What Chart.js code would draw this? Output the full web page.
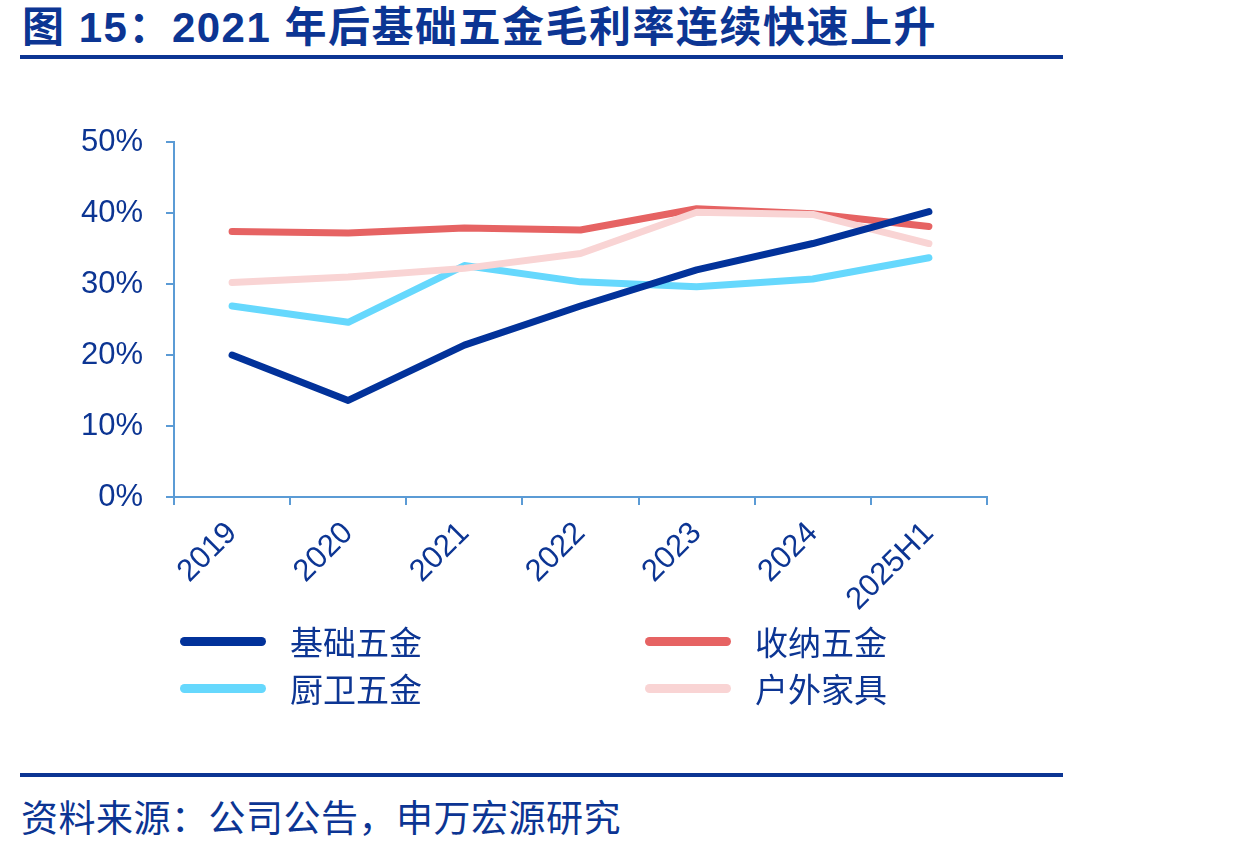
<!DOCTYPE html>
<html>
<head>
<meta charset="utf-8">
<script src="https://cdn.jsdelivr.net/npm/chart.js@4.4.0/dist/chart.umd.min.js"></script>
<style>
  body { margin: 0; background: #fff; width: 1234px; height: 852px; position: relative; overflow: hidden;
         font-family: "Liberation Sans", Arial, "Noto Sans CJK SC", sans-serif; color: #0c3593; }
  #title { position: absolute; left: 22px; top: 7px; font-size: 42px; line-height: 42px; letter-spacing: 1.5px;
           font-weight: bold; white-space: nowrap; }
  .rule { position: absolute; left: 20px; width: 1043px; height: 4px; background: #0c3593; }
  #chartBox { position: absolute; left: 0; top: 100px; width: 1234px; height: 540px; }
  .leg { position: absolute; height: 40px; display: flex; align-items: center; white-space: nowrap;
         font-family: "Noto Sans CJK SC", sans-serif; font-size: 33px; }
  .leg span.ln { display: inline-block; width: 86px; height: 9px; border-radius: 5px; margin-right: 24px; }
  #source { position: absolute; left: 21px; top: 798px; font-size: 37px; line-height: 37px; letter-spacing: 0.5px;
            font-family: "Noto Sans CJK SC", sans-serif; white-space: nowrap; }
</style>
</head>
<body>
<div id="title">图 15：2021 年后基础五金毛利率连续快速上升</div>
<div class="rule" style="top:55px"></div>
<div id="chartBox"><canvas id="myChart"></canvas></div>
<div id="legend"></div>
<div class="rule" style="top:773px"></div>
<div id="source">资料来源：公司公告，申万宏源研究</div>

<script>
// categories
const years = ['2019', '2020', '2021', '2022', '2023', '2024', '2025H1'];

// gross margin, %
const jichu  = [20.0, 13.6, 21.4, 26.9, 32.0, 35.7, 40.2];   // 基础五金
const shouna = [37.4, 37.2, 37.9, 37.6, 40.6, 39.9, 38.1];   // 收纳五金
const chuwei = [26.9, 24.6, 32.6, 30.3, 29.6, 30.7, 33.7];   // 厨卫五金
const huwai  = [30.2, 31.0, 32.2, 34.3, 40.1, 39.8, 35.7];   // 户外家具

const yTicks = [0, 10, 20, 30, 40, 50];

const textColor = '#0c3593';
const axisColor = '#5b9bd5';

const series = [
  { label: '基础五金', data: jichu,  color: '#02329a', order: 0 },
  { label: '收纳五金', data: shouna, color: '#e66363', order: 3 },
  { label: '厨卫五金', data: chuwei, color: '#66d8fd', order: 2 },
  { label: '户外家具', data: huwai,  color: '#f9d4d4', order: 1 }
];

const ctx = document.getElementById('myChart').getContext('2d');
const myChart = new Chart(ctx, {
  type: 'line',
  data: {
    labels: years,
    datasets: series.map(s => ({
      label: s.label,
      data: s.data,
      borderColor: s.color,
      backgroundColor: s.color,
      borderWidth: 7,
      borderCapStyle: 'round',
      borderJoinStyle: 'round',
      pointRadius: 0,
      tension: 0,
      order: s.order
    }))
  },
  options: {
    responsive: true,
    maintainAspectRatio: false,
    animation: false,
    layout: { padding: { left: 0, top: 42, right: 247, bottom: 0 } },
    plugins: { legend: { display: false }, tooltip: { enabled: false } },
    scales: {
      x: {
        offset: true,
        grid: { offset: true, drawOnChartArea: false, drawTicks: true, tickLength: 8, color: axisColor, lineWidth: 2 },
        border: { color: axisColor, width: 2 },
        ticks: {
          color: textColor, autoSkip: false, maxRotation: 45, minRotation: 45, padding: 10,
          font: { family: '"Liberation Sans", Arial', size: 31 }
        },
        afterFit: s => { s.height = 143; }
      },
      y: {
        min: 0, max: 50,
        afterBuildTicks: s => { s.ticks = yTicks.map(v => ({ value: v })); },
        grid: { drawOnChartArea: false, drawTicks: true, tickLength: 8, color: axisColor, lineWidth: 2 },
        border: { color: axisColor, width: 2 },
        ticks: {
          color: textColor, padding: 23,
          font: { family: '"Liberation Sans", Arial', size: 31 },
          callback: v => v + '%'
        },
        afterFit: s => { s.width = 174; }
      }
    }
  }
});

// legend in two columns
const legPos = [[180, 621], [645, 621], [180, 668], [645, 668]];
const legend = document.getElementById('legend');
series.forEach((s, i) => {
  const d = document.createElement('div');
  d.className = 'leg';
  d.style.left = legPos[i][0] + 'px';
  d.style.top = legPos[i][1] + 'px';
  d.innerHTML = '<span class="ln" style="background:' + s.color + '"></span>' + s.label;
  legend.appendChild(d);
});
</script>
</body>
</html>
